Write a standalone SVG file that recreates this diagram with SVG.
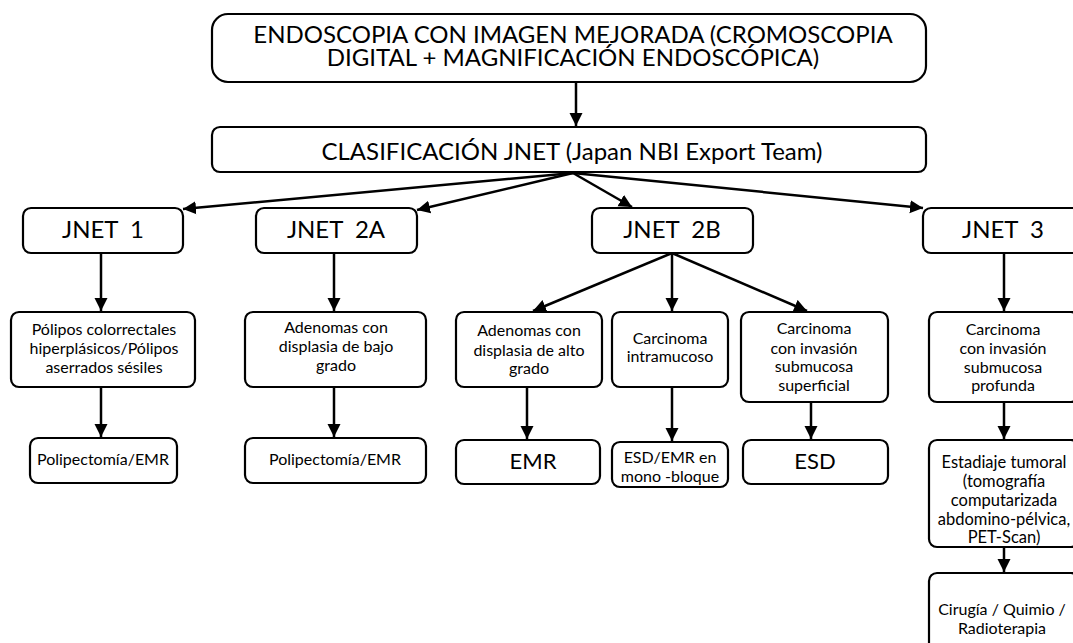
<svg xmlns="http://www.w3.org/2000/svg" width="1073" height="643" viewBox="0 0 1073 643">
  <style>
    .box { fill: #fff; stroke: #000; stroke-width: 2.2; }
    .lg { font-family: Lato, "Liberation Sans", sans-serif; font-size: 24px; fill: #000; text-anchor: middle; white-space: pre; }
    .md { font-family: Lato, "Liberation Sans", sans-serif; font-size: 22px; fill: #000; text-anchor: middle; }
    .sm { font-family: Lato, "Liberation Sans", sans-serif; font-size: 16px; fill: #000; text-anchor: middle; }
    .edge { stroke: #000; stroke-width: 2.5; fill: none; marker-end: url(#arrow); }
  </style>
  <defs>
    <marker id="arrow" markerUnits="userSpaceOnUse" markerWidth="14" markerHeight="14" viewBox="0 0 14 14" refX="13" refY="7" orient="auto">
      <path d="M0,0.5 L13,7 L0,13.5 Z" fill="#000"/>
    </marker>
  </defs>
  <rect width="1073" height="643" fill="#fff"/>

  <g id="connectors">
    <line class="edge" x1="576" y1="82" x2="576" y2="126"/>
    <line class="edge" x1="573" y1="173" x2="183" y2="209"/>
    <line class="edge" x1="573" y1="173" x2="417" y2="210"/>
    <line class="edge" x1="573" y1="173" x2="632" y2="207"/>
    <line class="edge" x1="573" y1="173" x2="923" y2="208"/>
    <line class="edge" x1="101" y1="253" x2="101" y2="311"/>
    <line class="edge" x1="101" y1="387" x2="101" y2="437"/>
    <line class="edge" x1="334" y1="253" x2="334" y2="311"/>
    <line class="edge" x1="334" y1="387" x2="334" y2="437"/>
    <line class="edge" x1="672" y1="253" x2="533" y2="311"/>
    <line class="edge" x1="672" y1="253" x2="672" y2="311"/>
    <line class="edge" x1="672" y1="253" x2="807" y2="311"/>
    <line class="edge" x1="527" y1="387" x2="527" y2="439"/>
    <line class="edge" x1="672" y1="387" x2="672" y2="441"/>
    <line class="edge" x1="811" y1="402" x2="811" y2="439"/>
    <line class="edge" x1="1004" y1="253" x2="1004" y2="311"/>
    <line class="edge" x1="1004" y1="402" x2="1004" y2="439"/>
    <line class="edge" x1="1004" y1="547" x2="1004" y2="572"/>
  </g>

  <g id="endoscopia">
    <rect class="box" x="212" y="14" width="714" height="68" rx="16"/>
    <text class="lg" x="573" y="42.5">ENDOSCOPIA CON IMAGEN MEJORADA (CROMOSCOPIA</text>
    <text class="lg" x="573" y="65.5">DIGITAL + MAGNIFICACIÓN ENDOSCÓPICA)</text>
  </g>

  <g id="clasificacion">
    <rect class="box" x="212" y="127" width="714" height="45" rx="8"/>
    <text class="lg" x="572" y="160">CLASIFICACIÓN JNET (Japan NBI Export Team)</text>
  </g>

  <g id="jnet1">
    <rect class="box" x="23" y="208" width="160" height="45" rx="8"/>
    <text class="lg" x="103" y="238">JNET  1</text>
  </g>
  <g id="jnet2a">
    <rect class="box" x="256" y="208" width="161" height="45" rx="8"/>
    <text class="lg" x="336" y="238">JNET  2A</text>
  </g>
  <g id="jnet2b">
    <rect class="box" x="592" y="208" width="161" height="45" rx="8"/>
    <text class="lg" x="672" y="238">JNET  2B</text>
  </g>
  <g id="jnet3">
    <rect class="box" x="923" y="208" width="165" height="45" rx="8"/>
    <text class="lg" x="1003" y="238">JNET  3</text>
  </g>

  <g id="polipos">
    <rect class="box" x="11" y="312" width="184" height="75" rx="8"/>
    <text class="sm" x="104" y="335">Pólipos colorrectales</text>
    <text class="sm" x="104" y="354">hiperplásicos/Pólipos</text>
    <text class="sm" x="104" y="373">aserrados sésiles</text>
  </g>
  <g id="polipectomia1">
    <rect class="box" x="30" y="438" width="147" height="45" rx="8"/>
    <text class="sm" x="103" y="465">Polipectomía/EMR</text>
  </g>

  <g id="adenomas-bajo">
    <rect class="box" x="245" y="312" width="181" height="75" rx="8"/>
    <text class="sm" x="336" y="333">Adenomas con</text>
    <text class="sm" x="336" y="352">displasia de bajo</text>
    <text class="sm" x="336" y="371">grado</text>
  </g>
  <g id="polipectomia2">
    <rect class="box" x="245" y="438" width="181" height="45" rx="8"/>
    <text class="sm" x="335" y="465">Polipectomía/EMR</text>
  </g>

  <g id="adenomas-alto">
    <rect class="box" x="456" y="312" width="146" height="75" rx="8"/>
    <text class="sm" x="529" y="336">Adenomas con</text>
    <text class="sm" x="529" y="356">displasia de alto</text>
    <text class="sm" x="529" y="374">grado</text>
  </g>
  <g id="emr">
    <rect class="box" x="456" y="440" width="144" height="44" rx="8"/>
    <text class="md" x="533" y="469">EMR</text>
  </g>

  <g id="carcinoma-intramucoso">
    <rect class="box" x="612" y="312" width="116" height="75" rx="8"/>
    <text class="sm" x="670" y="344">Carcinoma</text>
    <text class="sm" x="670" y="362">intramucoso</text>
  </g>
  <g id="esd-emr">
    <rect class="box" x="612" y="442" width="116" height="45" rx="8"/>
    <text class="sm" x="670" y="463">ESD/EMR en</text>
    <text class="sm" x="670" y="482">mono -bloque</text>
  </g>

  <g id="carcinoma-superficial">
    <rect class="box" x="741" y="312" width="147" height="90" rx="8"/>
    <text class="sm" x="814" y="334">Carcinoma</text>
    <text class="sm" x="814" y="354">con invasión</text>
    <text class="sm" x="814" y="372">submucosa</text>
    <text class="sm" x="814" y="391">superficial</text>
  </g>
  <g id="esd">
    <rect class="box" x="743" y="440" width="145" height="44" rx="8"/>
    <text class="md" x="815" y="469">ESD</text>
  </g>

  <g id="carcinoma-profunda">
    <rect class="box" x="929" y="312" width="150" height="90" rx="8"/>
    <text class="sm" x="1003" y="335">Carcinoma</text>
    <text class="sm" x="1003" y="354">con invasión</text>
    <text class="sm" x="1003" y="373">submucosa</text>
    <text class="sm" x="1003" y="391">profunda</text>
  </g>
  <g id="estadiaje">
    <rect class="box" x="929" y="440" width="150" height="107" rx="8"/>
    <text class="sm" x="1004" y="468" style="font-size:16.5px">Estadiaje tumoral</text>
    <text class="sm" x="1004" y="487" style="font-size:16.5px">(tomografía</text>
    <text class="sm" x="1004" y="506" style="font-size:16.5px">computarizada</text>
    <text class="sm" x="1004" y="525" style="font-size:16.5px">abdomino-pélvica,</text>
    <text class="sm" x="1004" y="543" style="font-size:16.5px">PET-Scan)</text>
  </g>
  <g id="tratamiento">
    <rect class="box" x="929" y="573" width="150" height="85" rx="8"/>
    <text class="sm" x="1002" y="615">Cirugía / Quimio /</text>
    <text class="sm" x="1002" y="634">Radioterapia</text>
  </g>
</svg>
